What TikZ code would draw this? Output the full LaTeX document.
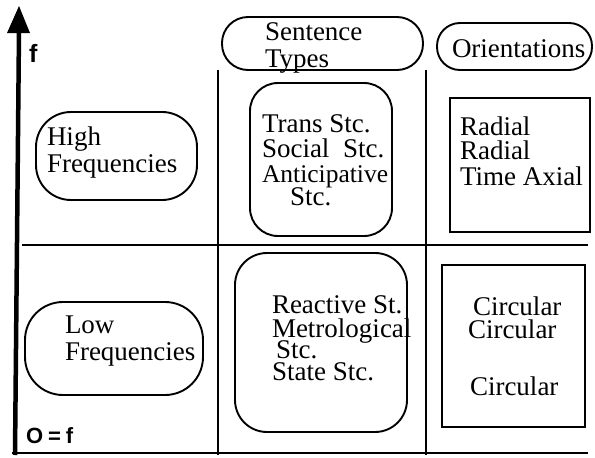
\documentclass[tikz,border=0pt]{standalone}
\usepackage{fontspec}
\setmainfont{Liberation Serif}
\setsansfont{Liberation Sans}
\begin{document}
\begin{tikzpicture}[x=1pt,y=-1pt,
  every node/.style={inner sep=0pt, outer sep=0pt},
  box/.style={draw, line width=1.9pt, minimum width=#1},
  lbl/.style={anchor=base west, text height=16pt, text depth=4pt,
    font=\fontsize{27}{25}\selectfont},
  rule/.style={line width=1.9pt},
  axislbl/.style={anchor=base west, font=\sffamily\bfseries\fontsize{22}{22}\selectfont}]
\useasboundingbox (0,0) rectangle (595,458);

% frequency axis
\draw[line width=4.5pt] (15,455) -- (19,30);
\fill (19,6) -- (30,33) -- (7,33) -- cycle;
\node[axislbl, font=\sffamily\bfseries\fontsize{25}{25}\selectfont] (flbl) at (29,62) {f};
\node[axislbl] (zero) at (26,443) {O\hspace{5pt}=\hspace{5pt}f};

% grid lines
\draw[rule] (12,453) -- (588,453);
\draw[rule] (22,245) -- (588,245);
\draw[rule] (218,70) -- (218,455);
\draw[rule] (426,70) -- (426,455);

% column headers
\node[box=201pt, minimum height=53pt, rounded corners=26pt] (sent) at (322.5,43.5) {};
\node[lbl] (sentA) at (265,40) {Sentence};
\node[lbl] (sentB) at (265,67) {Types};
\node[box=155pt, minimum height=47pt, rounded corners=23pt] (orient) at (514.5,46.5) {};
\node[lbl] (orientT) at (452,57) {Orientations};

% high frequencies row
\node[box=161pt, minimum height=88pt, rounded corners=35pt] (high) at (116.5,156) {};
\node[lbl] (highA) at (47,145) {High};
\node[lbl] (highB) at (47,172) {Frequencies};

\node[box=142pt, minimum height=153pt, rounded corners=28pt] (hsent) at (321,159.5) {};
\node[lbl] (hs1) at (262,132) {Trans Stc.};
\node[lbl] (hs2) at (262,157) {Social\ \ Stc.};
\node[lbl, font=\fontsize{25.5}{25}\selectfont] (hs3) at (262,182) {Anticipative};
\node[lbl] (hs4) at (290,205) {Stc.};

\node[box=140pt, minimum height=134pt] (hor) at (520,165) {};
\node[lbl] (ho1) at (460,135) {Radial};
\node[lbl] (ho2) at (460,159) {Radial};
\node[lbl] (ho3) at (460,185) {Time Axial};

% low frequencies row
\node[box=178pt, minimum height=93pt, rounded corners=38pt] (low) at (114,348.5) {};
\node[lbl] (lowA) at (65,333) {Low};
\node[lbl] (lowB) at (65,360) {Frequencies};

\node[box=172pt, minimum height=179pt, rounded corners=32pt] (lsent) at (321,342.5) {};
\node[lbl] (ls1) at (272,313) {Reactive St.};
\node[lbl] (ls2) at (272,337) {Metrological};
\node[lbl] (ls3) at (276,358) {Stc.};
\node[lbl] (ls4) at (272,380) {State Stc.};

\node[box=143pt, minimum height=162pt] (lor) at (513.5,346) {};
\node[lbl] (lo1) at (473,315) {Circular};
\node[lbl] (lo2) at (468,338) {Circular};
\node[lbl] (lo3) at (470,395) {Circular};
\end{tikzpicture}
\end{document}
